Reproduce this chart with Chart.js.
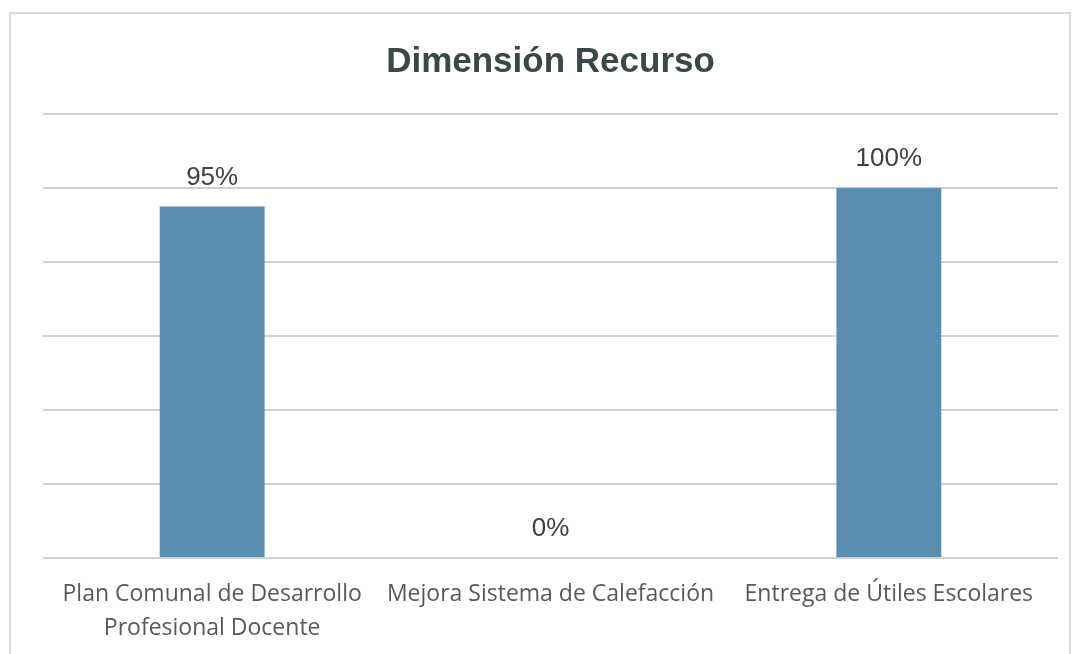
<!DOCTYPE html>
<html>
<head>
<meta charset="utf-8">
<script src="https://cdn.jsdelivr.net/npm/chart.js@4"></script>
<style>
  body { margin: 0; background: #fff; }
  #wrap { position: relative; width: 1074px; height: 654px; }
  #frame { position: absolute; left: 9px; top: 12px; width: 1062px; height: 660px; border: 2px solid #d9d9d9; box-sizing: border-box; }
  canvas { position: absolute; left: 0; top: 0; }
</style>
</head>
<body>
<div id="wrap">
  <div id="frame"></div>
  <canvas id="bar-chart" width="1074" height="654"></canvas>
</div>
<script>
// data
var categories = [
  ["Plan Comunal de Desarrollo", "Profesional Docente"],
  "Mejora Sistema de Calefacción",
  "Entrega de Útiles Escolares"
];
var values = [95, 0, 100];
var valueLabels = ["95%", "0%", "100%"];

// draws the % over each bar
var barLabels = {
  id: "barLabels",
  afterDatasetsDraw: function (chart) {
    var ctx = chart.ctx;
    var meta = chart.getDatasetMeta(0);
    ctx.save();
    ctx.font = "26px 'Liberation Sans', Arial, sans-serif";
    ctx.fillStyle = "#404040";
    ctx.textAlign = "center";
    ctx.textBaseline = "middle";
    meta.data.forEach(function (bar, i) {
      ctx.fillText(valueLabels[i], bar.x, bar.y - 29);
    });
    ctx.restore();
  }
};

var logChart = new Chart(document.getElementById("bar-chart"), {
  type: "bar",
  data: {
    labels: categories,
    datasets: [{
      data: values,
      backgroundColor: "#5A8DB0",
      categoryPercentage: 1,
      barPercentage: 0.31
    }]
  },
  options: {
    responsive: false,
    animation: false,
    layout: { padding: { left: 43, right: 16, top: 0, bottom: 10 } },
    plugins: {
      legend: { display: false },
      tooltip: { enabled: false },
      title: {
        display: true,
        text: "Dimensión Recurso",
        color: "#3a4947",
        font: { family: "'Liberation Sans', Arial, sans-serif", size: 35, weight: "bold" },
        padding: { top: 41, bottom: 31 }
      }
    },
    scales: {
      x: {
        afterFit: function (s) { s.height = 86; },
        grid: { display: false },
        border: { display: false },
        ticks: {
          color: "#595959",
          padding: 11,
          maxRotation: 0,
          autoSkip: false,
          font: { family: "'Open Sans', sans-serif", size: 23, lineHeight: 1.48 }
        }
      },
      y: {
        min: 0,
        max: 120,
        afterFit: function (s) { s.width = 0; },
        ticks: { display: false, stepSize: 20 },
        border: { display: false },
        grid: { color: "#d0d0d0", lineWidth: 2, drawTicks: false }
      }
    }
  },
  plugins: [barLabels]
});
</script>
</body>
</html>
